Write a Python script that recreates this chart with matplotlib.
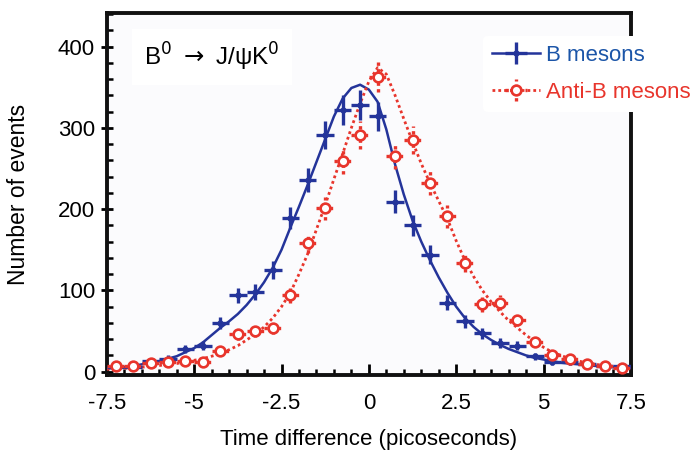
import numpy as np
import matplotlib
matplotlib.use('Agg')
import matplotlib.pyplot as plt
from matplotlib.ticker import MultipleLocator

plt.rcParams['font.family'] = ['Liberation Sans', 'DejaVu Sans']
plt.rcParams['mathtext.fontset'] = 'custom'
plt.rcParams['mathtext.rm'] = 'Liberation Sans'
plt.rcParams['mathtext.it'] = 'Liberation Sans:italic'

# bin centres (picoseconds) and half bin width
t_bins = [-7.25, -6.75, -6.25, -5.75, -5.25, -4.75, -4.25, -3.75, -3.25, -2.75,
          -2.25, -1.75, -1.25, -0.75, -0.25, 0.25, 0.75, 1.25, 1.75, 2.25,
          2.75, 3.25, 3.75, 4.25, 4.75, 5.25, 5.75, 6.25, 6.75, 7.25]
half_bin = 0.25

# B mesons
b_counts = [6, 6, 13, 16, 28, 32, 60, 94, 98, 125, 189, 236, 291, 322, 328,
            314, 209, 180, 144, 85, 62, 47, 35, 32, 19, 12, 12, 9, 7, 7]
b_err = [2.5, 2.5, 3.5, 4, 5, 5.5, 7.5, 9.5, 10, 11, 14, 15, 17, 18, 18,
         18, 14, 13, 12, 9, 8, 7, 6, 5.5, 4.5, 3.5, 3.5, 3, 2.5, 2.5]

# Anti-B mesons
r_counts = [7, 7, 11, 12, 13, 12, 26, 46, 50, 54, 94, 158, 201, 259, 291,
            363, 265, 285, 232, 191, 134, 83, 85, 64, 36, 21, 15, 9, 7, 5]
r_err = [2.5, 2.5, 3.5, 3.5, 3.5, 3.5, 5, 7, 7, 7.5, 9.5, 12.5, 14, 16, 17,
         19, 16, 17, 15, 14, 11.5, 9, 9, 8, 6, 4.5, 4, 3, 2.5, 2]

# fitted curves
t_fit = [-7.5, -7.25, -7.0, -6.75, -6.5, -6.25, -6.0, -5.75, -5.5, -5.25, -5.0,
         -4.75, -4.5, -4.25, -4.0, -3.75, -3.5, -3.25, -3.0, -2.75, -2.5,
         -2.25, -2.0, -1.75, -1.5, -1.25, -1.0, -0.75, -0.5, -0.25, 0.0,
         0.25, 0.5, 0.75, 1.0, 1.25, 1.5, 1.75, 2.0, 2.25, 2.5,
         2.75, 3.0, 3.25, 3.5, 3.75, 4.0, 4.25, 4.5, 4.75, 5.0,
         5.25, 5.5, 5.75, 6.0, 6.25, 6.5, 6.75, 7.0, 7.25, 7.5]
b_fit = [4, 4.5, 5.5, 7, 9, 11, 13, 16, 19, 24, 29,
         36, 45, 54, 62, 71, 82, 95, 110, 128, 150,
         177, 203, 230, 258, 286, 314, 336, 349, 353, 347,
         332, 298, 255, 218, 186, 160, 137, 116, 97, 80,
         66, 55, 46, 39, 33, 28, 24, 20, 17, 15,
         13, 11, 10, 9, 8, 7, 6, 5.5, 5, 4.5]
r_fit = [3, 3.5, 4, 5, 5.5, 6.5, 7.5, 9, 10, 12, 14,
         16, 19, 22, 27, 32, 39, 46, 55, 66, 80,
         97, 120, 145, 175, 205, 237, 268, 300, 330, 357,
         374, 366, 340, 311, 283, 256, 232, 210, 188, 161,
         137, 117, 100, 86, 74, 63, 54, 45, 37, 30,
         24, 20, 16, 13, 11, 9, 7.5, 6.5, 5.5, 5]

blue = '#24349a'
red = '#e8352c'

fig = plt.figure(figsize=(6.94, 4.55), dpi=100)
ax = fig.add_axes([0.154, 0.176, 0.755, 0.795])
ax.set_facecolor('#fbfbfd')

lb, = ax.plot(t_fit, b_fit, color=blue, lw=1.8, zorder=3)
lr, = ax.plot(t_fit, r_fit, color=red, lw=2.0, ls=(0, (1, 1.1)), zorder=3)

ebb = ax.errorbar(t_bins, b_counts, yerr=b_err, xerr=half_bin, fmt='o',
                  color=blue, ms=3.5, elinewidth=2.4, capsize=0, zorder=4)
ebr = ax.errorbar(t_bins, r_counts, yerr=r_err, xerr=half_bin, fmt='o',
                  color=red, mfc='white', mec=red, mew=1.9, ms=7,
                  elinewidth=2.4, capsize=0, zorder=4)
for c in ebr[2]:
    c.set_linestyle((0, (1, 1)))

ax.set_xlim(-7.5, 7.5)
ax.set_ylim(-4, 441)
ax.xaxis.set_minor_locator(MultipleLocator(0.5))
ax.yaxis.set_major_locator(MultipleLocator(100))
ax.yaxis.set_minor_locator(MultipleLocator(20))
ax.set_xticks([-7.5, -5, -2.5, 0, 2.5, 5, 7.5])
ax.set_xticklabels(['-7.5', '-5', '-2.5', '0', '2.5', '5', '7.5'])
ax.tick_params(axis='x', which='major', direction='in', length=8, width=2, labelsize=16, pad=13)
ax.tick_params(axis='x', which='minor', direction='in', length=4.5, width=1.8)
ax.tick_params(axis='y', which='major', direction='inout', length=9, width=2, labelsize=16, pad=4)
ax.tick_params(axis='y', which='minor', direction='in', length=4.5, width=1.8)
for s in ax.spines.values():
    s.set_linewidth(2.8)
    s.set_color('#111111')

ax.set_xlabel('Time difference (picoseconds)', fontsize=16, labelpad=11)
ax.set_ylabel('Number of events', fontsize=16.5, labelpad=20)

ax.text(-6.43, 387, 'B$^0$ $\\rightarrow$ J/\u03c8K$^0$', fontsize=17.5,
        va='center', ha='left', math_fontfamily='dejavusans',
        bbox=dict(boxstyle='square,pad=0.5', fc='white', ec='none'))

leg = ax.legend([(lb, ebb), (lr, ebr)], ['B mesons', 'Anti-B mesons'],
                loc='upper left', bbox_to_anchor=(0.718, 0.938), frameon=True,
                fontsize=16, handlelength=2.15, handletextpad=0.3,
                labelspacing=0.73, borderaxespad=0, borderpad=0.4)
leg.get_frame().set_facecolor('white')
leg.get_frame().set_edgecolor('none')
leg.get_frame().set_alpha(1)
leg.get_texts()[0].set_color('#1b55a8')
leg.get_texts()[1].set_color(red)

fig.savefig('out.png', dpi=100)
